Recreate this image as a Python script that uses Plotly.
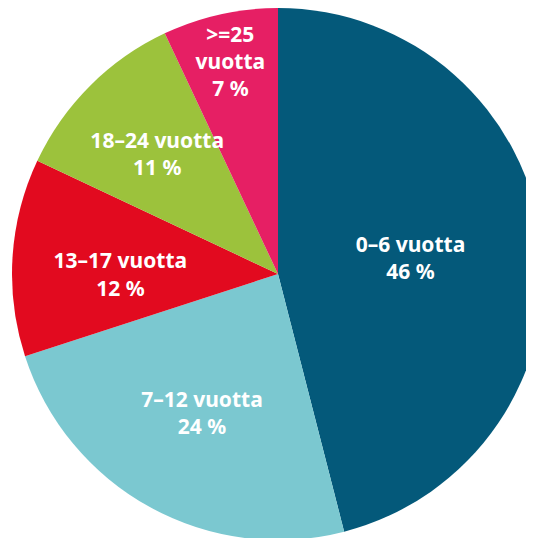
import plotly.graph_objects as go

labels = ["0–6 vuotta", "7–12 vuotta", "13–17 vuotta", "18–24 vuotta", ">=25 vuotta"]
text_labels = ["0–6 vuotta", "7–12 vuotta", "13–17 vuotta", "18–24 vuotta", ">=25<br>vuotta"]
values = [46, 24, 12, 11, 7]
colors = ["#04597a", "#7bc8d0", "#e20a1f", "#9cc23c", "#e61f64"]

texts = [f"{t}<br>{v} %" for t, v in zip(text_labels, values)]
# labels for the two left slices are drawn by a smaller, transparent copy of the pie
inner = [2, 3]
texts_outer = ["" if i in inner else t for i, t in enumerate(texts)]
texts_inner = [t if i in inner else "" for i, t in enumerate(texts)]

font = dict(family="Noto Sans", size=21, color="white", weight="bold")

fig = go.Figure()
fig.add_trace(go.Pie(
    labels=labels,
    values=values,
    text=texts_outer,
    textinfo="text",
    textposition="inside",
    insidetextorientation="horizontal",
    sort=False,
    direction="clockwise",
    rotation=0,
    marker=dict(colors=colors, line=dict(width=0)),
    textfont=font,
    hoverinfo="label+percent",
    showlegend=False,
))
f = 0.86
fig.add_trace(go.Pie(
    labels=labels,
    values=values,
    text=texts_inner,
    textinfo="text",
    textposition="inside",
    insidetextorientation="horizontal",
    sort=False,
    direction="clockwise",
    rotation=0,
    domain=dict(x=[0.5 - f / 2, 0.5 + f / 2], y=[0.5 - f / 2, 0.5 + f / 2]),
    marker=dict(colors=["rgba(0,0,0,0)"] * len(values), line=dict(width=0)),
    textfont=font,
    hoverinfo="skip",
    showlegend=False,
))

fig.update_layout(
    width=544, height=540,
    autosize=False,
    margin=dict(l=4, r=8, t=0, b=8),
    paper_bgcolor="white",
    plot_bgcolor="white",
    uniformtext=dict(minsize=21, mode="show"),
)

fig.write_html("out.html")
